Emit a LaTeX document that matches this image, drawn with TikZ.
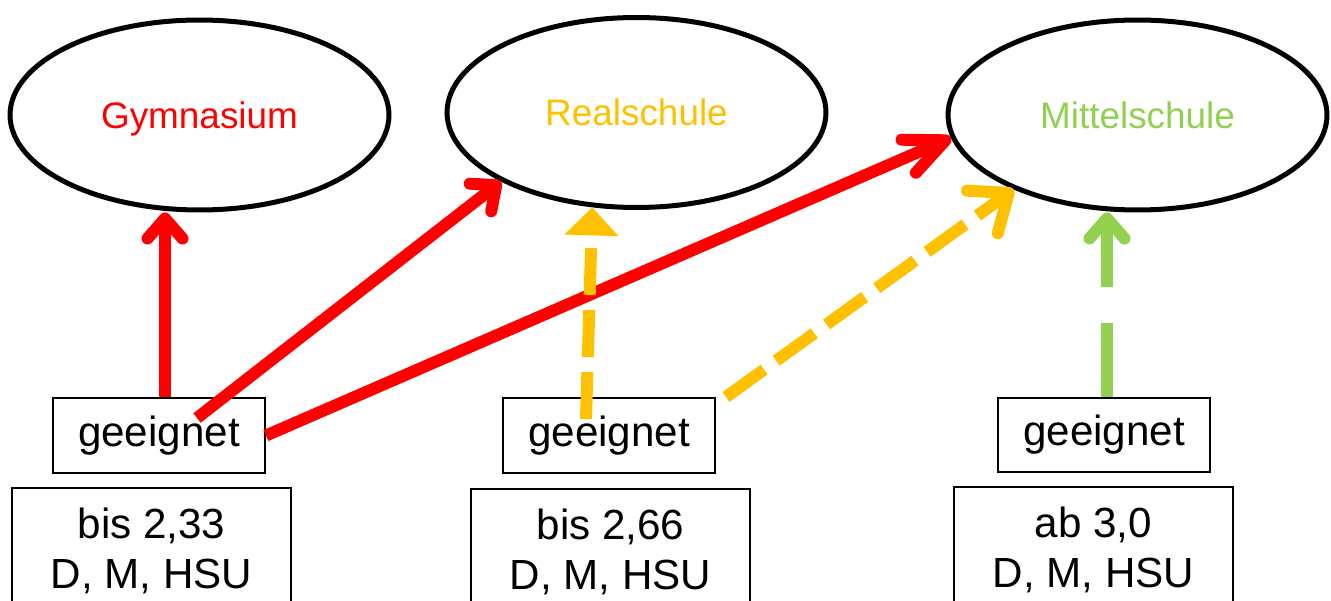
\documentclass[tikz,border=0pt]{standalone}
\usepackage{fontspec}
\setmainfont{Liberation Sans}
\usetikzlibrary{shapes.geometric, arrows.meta}
\definecolor{rot}{HTML}{FF0000}
\definecolor{gelb}{HTML}{FFC000}
\definecolor{gruen}{HTML}{92D050}

\begin{document}
\begin{tikzpicture}[x=0.02cm, y=-0.02cm,
    schule/.style={draw, ellipse, line width=0.1cm, minimum width=7.58cm, minimum height=3.8cm, inner sep=0pt, text depth=0pt, font=\fontsize{21}{25}\selectfont},
    kasten/.style={draw, line width=0.04cm, minimum width=4.24cm, minimum height=1.5cm, inner sep=0pt, font=\fontsize{24}{29}\selectfont},
    note/.style={draw, line width=0.04cm, minimum width=5.58cm, minimum height=2.52cm, inner sep=0pt, align=center, anchor=north, font=\fontsize{24}{28.45}\selectfont},
    pfeil/.style={line width=0.24cm, -{Straight Barb[round, length=0.4cm, width=0.7cm]}},
    langpfeil/.style={line width=0.24cm, -{Straight Barb[round, length=0.8cm, width=0.72cm]}},
    strich/.style={line width=0.24cm, dash pattern=on 0.94cm off 0.3cm}
]
    \useasboundingbox (0,0) rectangle (1331,601);
    \clip (0,0) rectangle (1331,601);

    % Schularten
    \node[schule, text=rot] (gym) at (199.5,115) {Gymnasium};
    \node[schule, text=gelb] (real) at (636.5,112.5) {Realschule};
    \node[schule, text=gruen] (mittel) at (1137.5,115) {Mittelschule};

    % Eignung
    \node[kasten] (g1) at (159,435.5) {geeignet};
    \node[kasten] (g2) at (609,435.5) {geeignet};
    \node[kasten] (g3) at (1104,435) {geeignet};

    % Noten
    \node[note] (n1) at (151.5,487) {bis 2,33\\D, M, HSU};
    \node[note] (n2) at (610.5,488) {bis 2,66\\D, M, HSU};
    \node[note] (n3) at (1093.5,486) {ab 3,0\\D, M, HSU};

    % Pfeile
    \coordinate (a1) at ([xshift=0.12cm]g1.north);
    \coordinate (a3) at ([xshift=0.06cm]g3.north);
    \draw[pfeil, rot] (a1) -- (a1 |- gym.south);
    \draw[pfeil, rot] ([shift={(38,-17.5)}]g1.center) -- (real.207);
    \draw[langpfeil, rot] (g1.east) -- (mittel.187);
    \draw[strich, gelb, -{Triangle[length=0.56cm, width=1.05cm]}] ([shift={(-23,-16.5)}]g2.center) -- (real.245);
    \draw[strich, gelb, -{Straight Barb[round, length=0.65cm, width=1.05cm]}] ([xshift=0.2cm]g2.north east) -- (mittel.211);
    \draw[pfeil, gruen, dash pattern=on 1.48cm off 0.72cm] (a3) -- (a3 |- mittel.south);
\end{tikzpicture}
\end{document}
